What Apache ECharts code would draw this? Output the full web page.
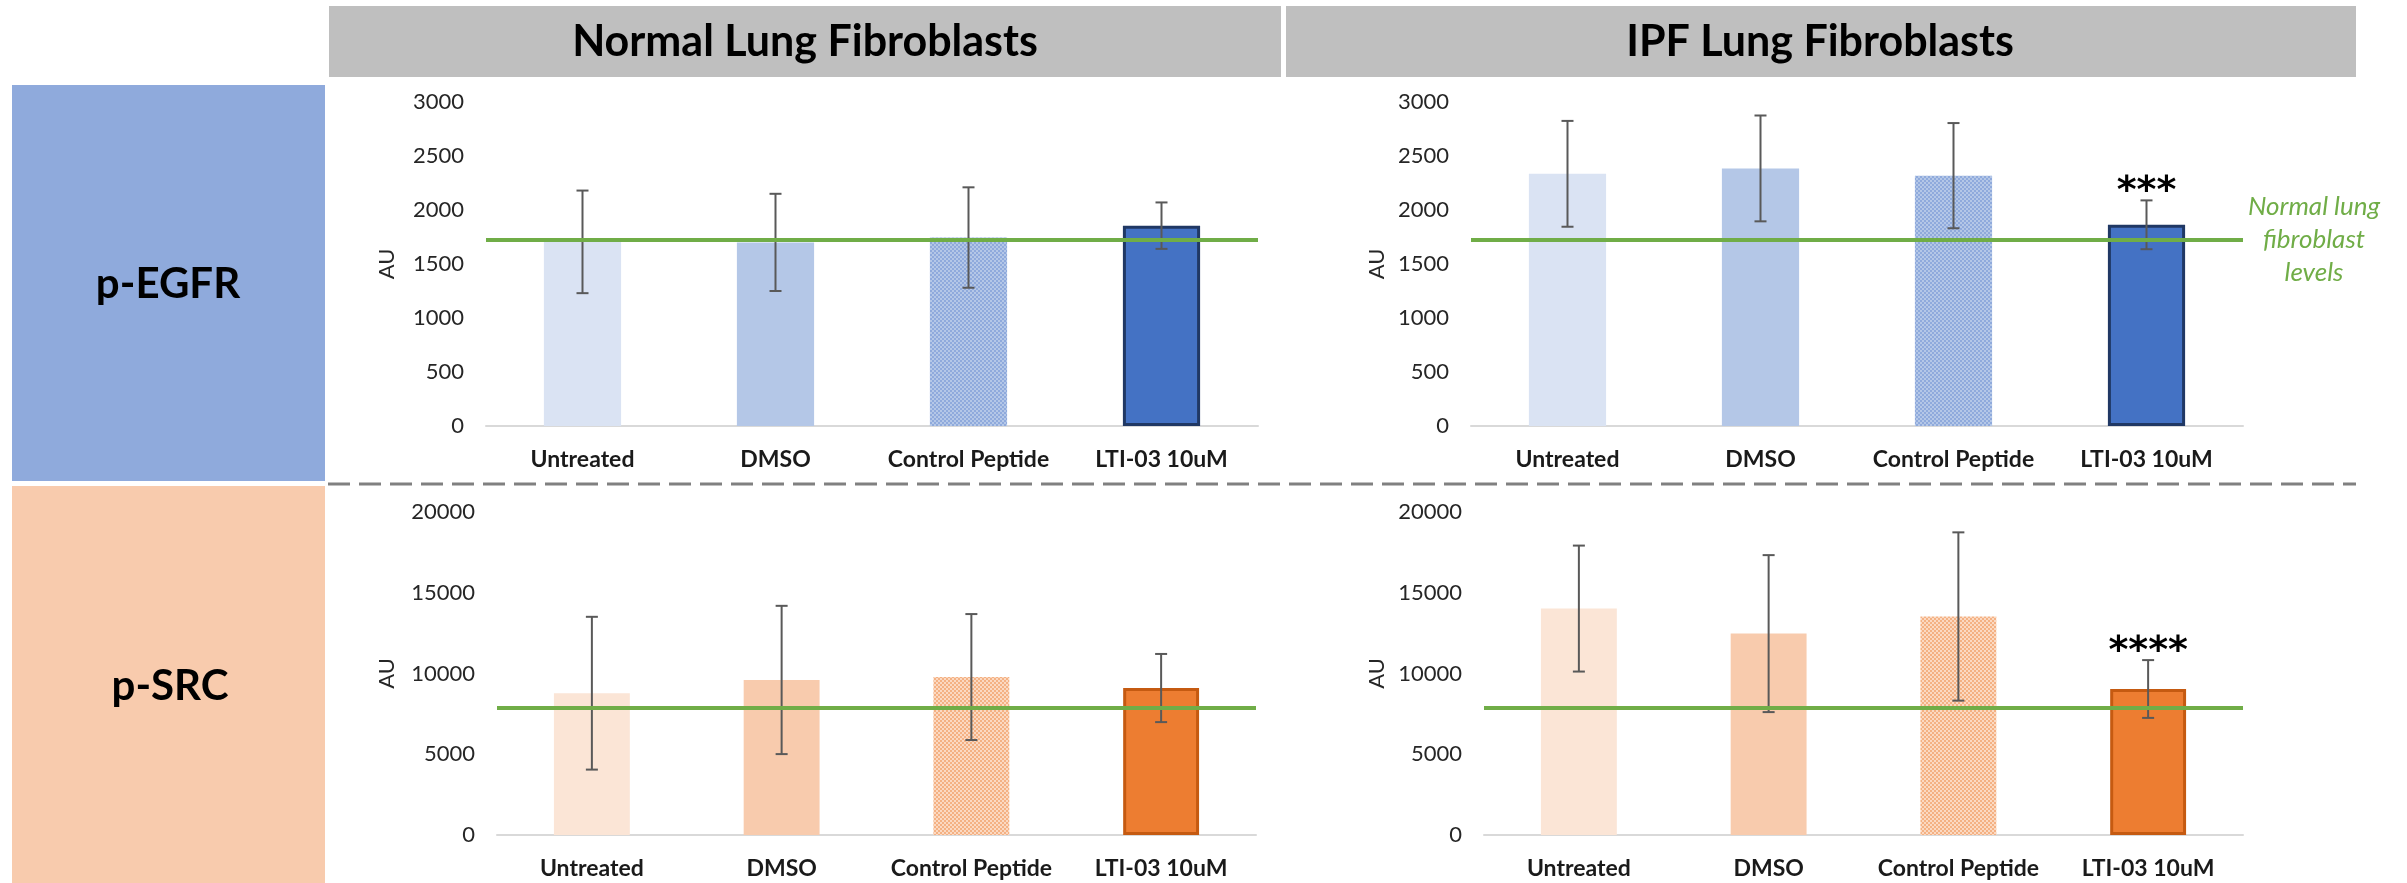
<!DOCTYPE html>
<html>
<head>
<meta charset="UTF-8">
<title>p-EGFR / p-SRC</title>
<style>
  html, body { margin: 0; padding: 0; background: #fff; }
  #main { width: 2407px; height: 883px; }
</style>
</head>
<body>
<div id="main"></div>
<script src="https://cdn.jsdelivr.net/npm/echarts/dist/echarts.min.js"></script>
<script>
var categories = ['Untreated', 'DMSO', 'Control Peptide', 'LTI-03 10uM'];

var egfrNormal = [1705, 1700, 1745, 1855];
var egfrNormalErr = [475, 450, 465, 215];
var egfrIpf = [2335, 2385, 2318, 1863];
var egfrIpfErr = [490, 490, 487, 226];

var srcNormal = [8780, 9600, 9780, 9100];
var srcNormalErr = [4730, 4590, 3900, 2110];
var srcIpf = [14020, 12470, 13530, 9040];
var srcIpfErr = [3900, 4860, 5210, 1790];

// green "normal lung fibroblast levels" line
var egfrNormalLevel = 1720;
var srcNormalLevel = 7900;

var egfrNormalSig = ['', '', '', ''];
var egfrIpfSig = ['', '', '', '***'];
var srcNormalSig = ['', '', '', ''];
var srcIpfSig = ['', '', '', '****'];

var egfrAxis = [0, 3000, 500];
var srcAxis = [0, 20000, 5000];

function checker(bg, fg) {
    var c = document.createElement('canvas');
    c.width = 4; c.height = 4;
    var ctx = c.getContext('2d');
    ctx.fillStyle = bg; ctx.fillRect(0, 0, 4, 4);
    ctx.fillStyle = fg; ctx.fillRect(0, 0, 2, 2); ctx.fillRect(2, 2, 2, 2);
    return { image: c, repeat: 'repeat' };
}

var blueStyles = [
    { color: '#DAE3F3' },
    { color: '#B4C7E7' },
    { color: checker('#B4C7E7', '#8FAADC') },
    { color: '#4472C4', borderColor: '#203864', borderWidth: 3 }
];
var orangeStyles = [
    { color: '#FBE5D6' },
    { color: '#F8CBAD' },
    { color: checker('#FBD9C2', '#F4B183') },
    { color: '#ED7D31', borderColor: '#C55A11', borderWidth: 3 }
];

var grids = [
    { left: 486, right: 1149, top: 102, bottom: 457 },
    { left: 1471, right: 164, top: 102, bottom: 457 },
    { left: 497, right: 1151, top: 512, bottom: 48 },
    { left: 1484, right: 164, top: 512, bottom: 48 }
];
var nameGaps = [88, 83, 99, 96];

function renderErr(params, api) {
    var x = api.value(0);
    var lo = api.coord([x, api.value(1)]);
    var hi = api.coord([x, api.value(2)]);
    var w = 6;
    var st = { stroke: '#595959', lineWidth: 2 };
    var kids = [
        { type: 'line', shape: { x1: lo[0], y1: lo[1], x2: hi[0], y2: hi[1] }, style: st },
        { type: 'line', shape: { x1: lo[0] - w, y1: lo[1], x2: lo[0] + w, y2: lo[1] }, style: st },
        { type: 'line', shape: { x1: hi[0] - w, y1: hi[1], x2: hi[0] + w, y2: hi[1] }, style: st }
    ];
    var sig = api.value(3);
    if (sig) {
        kids.push({
            type: 'text',
            style: {
                x: hi[0], y: hi[1] - 8, text: sig,
                font: 'bold 38px "DejaVu Sans"', fill: '#000',
                textAlign: 'center', textVerticalAlign: 'middle'
            }
        });
    }
    return { type: 'group', children: kids };
}

var xAxes = [], yAxes = [], series = [];

function panel(i, values, errs, styles, level, sig, axis) {
    xAxes.push({
        type: 'category', gridIndex: i, data: categories,
        axisTick: { show: false },
        axisLine: { lineStyle: { color: '#D9D9D9', width: 2 } },
        axisLabel: { margin: 22, fontSize: 23, fontWeight: 'bold', color: '#1a1a1a', fontFamily: 'Lato', interval: 0 }
    });
    yAxes.push({
        type: 'value', gridIndex: i, min: axis[0], max: axis[1], interval: axis[2],
        name: 'AU', nameLocation: 'middle', nameRotate: 90, nameGap: nameGaps[i],
        nameTextStyle: { fontSize: 22, color: '#262626', fontFamily: 'Lato' },
        splitLine: { show: false },
        axisLine: { show: false },
        axisTick: { show: false },
        axisLabel: {
            margin: 22, fontSize: 22, color: '#262626', fontFamily: 'Lato',
            formatter: function (v) { return String(v); }
        }
    });
    series.push({
        type: 'bar', xAxisIndex: i, yAxisIndex: i, barWidth: '40%', z: 2,
        data: values.map(function (v, k) { return { value: v, itemStyle: styles[k] }; })
    });
    series.push({
        type: 'custom', xAxisIndex: i, yAxisIndex: i, z: 3,
        renderItem: renderErr,
        encode: { x: 0, y: [1, 2] },
        data: values.map(function (v, k) { return [k, v - errs[k], v + errs[k], sig[k]]; })
    });
    series.push({
        type: 'line', xAxisIndex: i, yAxisIndex: i, z: 10, data: [],
        markLine: {
            silent: true, symbol: 'none', animation: false,
            label: { show: false },
            lineStyle: { color: '#70AD47', width: 4, type: 'solid' },
            data: [{ yAxis: level }]
        }
    });
}

panel(0, egfrNormal, egfrNormalErr, blueStyles, egfrNormalLevel, egfrNormalSig, egfrAxis);
panel(1, egfrIpf, egfrIpfErr, blueStyles, egfrNormalLevel, egfrIpfSig, egfrAxis);
panel(2, srcNormal, srcNormalErr, orangeStyles, srcNormalLevel, srcNormalSig, srcAxis);
panel(3, srcIpf, srcIpfErr, orangeStyles, srcNormalLevel, srcIpfSig, srcAxis);

var myChart = echarts.init(document.getElementById('main'));
myChart.setOption({
    animation: false,
    grid: grids,
    xAxis: xAxes,
    yAxis: yAxes,
    series: series,
    graphic: [
        { type: 'rect', shape: { x: 329, y: 6, width: 952, height: 71 }, style: { fill: '#BFBFBF' } },
        { type: 'rect', shape: { x: 1286, y: 6, width: 1070, height: 71 }, style: { fill: '#BFBFBF' } },
        { type: 'text', style: { x: 805, y: 42, text: 'Normal Lung Fibroblasts', font: 'bold 43px Lato', fill: '#000', textAlign: 'center', textVerticalAlign: 'middle' } },
        { type: 'text', style: { x: 1820, y: 42, text: 'IPF Lung Fibroblasts', font: 'bold 43px Lato', fill: '#000', textAlign: 'center', textVerticalAlign: 'middle' } },
        { type: 'rect', shape: { x: 12, y: 85, width: 313, height: 396 }, style: { fill: '#8FAADC' } },
        { type: 'rect', shape: { x: 12, y: 486, width: 313, height: 397 }, style: { fill: '#F8CBAD' } },
        { type: 'text', style: { x: 168, y: 284, text: 'p-EGFR', font: 'bold 42px Lato', fill: '#000', textAlign: 'center', textVerticalAlign: 'middle' } },
        { type: 'text', style: { x: 170, y: 686, text: 'p-SRC', font: 'bold 42px Lato', fill: '#000', textAlign: 'center', textVerticalAlign: 'middle' } },
        { type: 'line', shape: { x1: 328, y1: 484, x2: 2356, y2: 484 }, style: { stroke: '#808080', lineWidth: 3, lineDash: [22, 9] } },
        { type: 'text', style: { x: 2314, y: 240, text: 'Normal lung\nfibroblast\nlevels', font: 'italic 26px Lato', lineHeight: 33, fill: '#70AD47', textAlign: 'center', textVerticalAlign: 'middle' } }
    ]
});
</script>
</body>
</html>
